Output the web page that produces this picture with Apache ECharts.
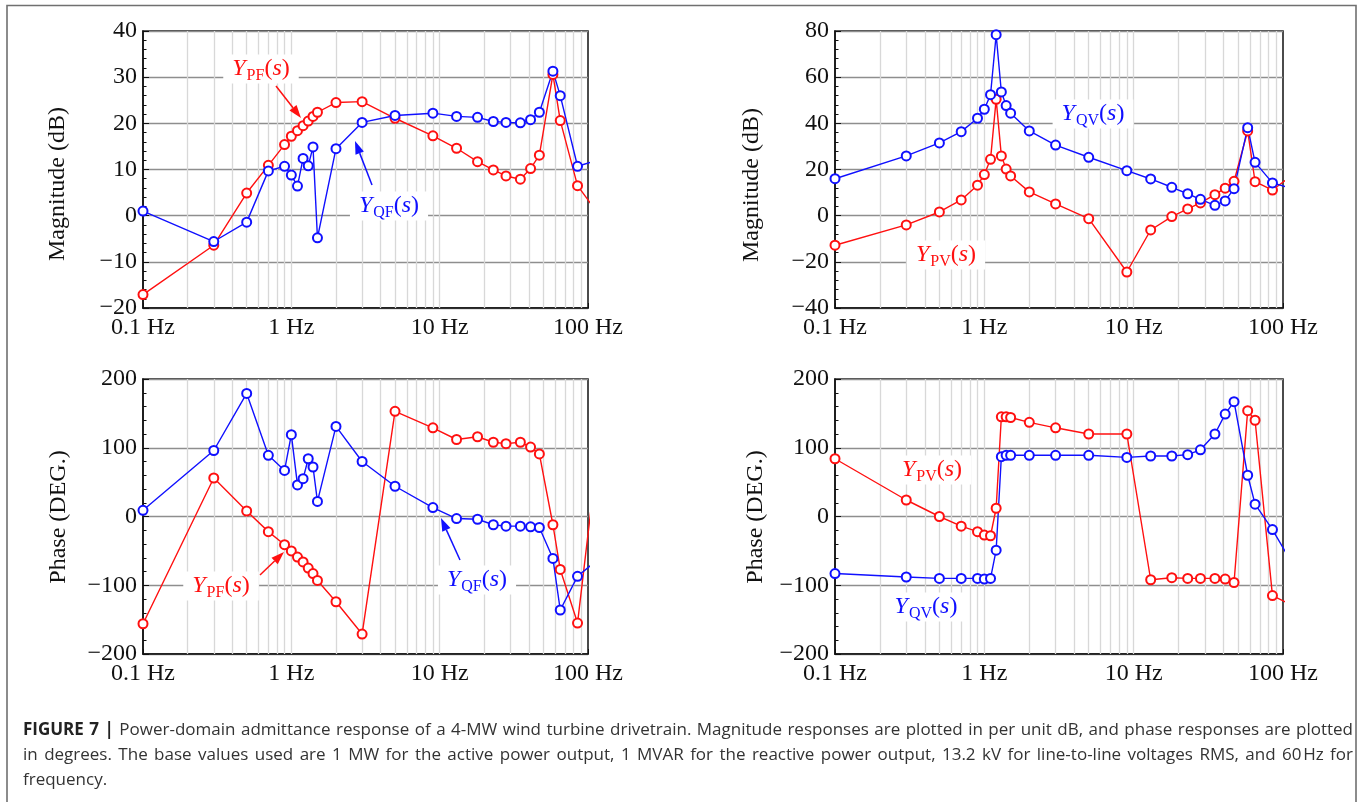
<!DOCTYPE html>
<html>
<head>
    <meta charset="utf-8">
    <title>Figure 7</title>
    <script src="https://cdn.jsdelivr.net/npm/echarts@6/dist/echarts.min.js"></script>
    <style>
        html, body { margin: 0; padding: 0; background: #fff; }
        #main { position: absolute; left: 0; top: 0; width: 1360px; height: 802px; }
        #caption {
            position: absolute; left: 23px; top: 716px; width: 1330px;
            font-family: 'Open Sans', 'Liberation Sans', Arial, sans-serif; font-size: 17px;
            line-height: 25px; color: #333;
        }
        #caption .j { text-align: justify; text-align-last: justify; }
        #caption b { color: #222; }
    </style>
</head>
<body>
<div id="main"></div>
<div id="caption">
    <div class="j"><b>FIGURE 7 |</b> Power-domain admittance response of a 4-MW wind turbine drivetrain. Magnitude responses are plotted in per unit dB, and phase responses are plotted</div>
    <div class="j">in degrees. The base values used are 1 MW for the active power output, 1 MVAR for the reactive power output, 13.2 kV for line-to-line voltages RMS, and 60&#8202;Hz for</div>
    <div>frequency.</div>
</div>
<script type="text/javascript">
    // frequencies (Hz), shared by every curve; the last one lies just past 100 Hz and is clipped
    var freq = [0.1, 0.3, 0.5, 0.7, 0.9, 1.0, 1.1, 1.2, 1.3, 1.4, 1.5, 2, 3, 5, 9, 13, 18, 23, 28, 35, 41, 47, 58, 65, 85, 110];

    // magnitude (dB)
    var magPF = [-17.1, -6.4, 4.9, 10.9, 15.4, 17.2, 18.4, 19.5, 20.5, 21.5, 22.4, 24.5, 24.7, 21.1, 17.3, 14.6, 11.7, 9.9, 8.6, 7.9, 10.2, 13.1, 30.6, 20.6, 6.5, 1.6];
    var magQF = [1.0, -5.6, -1.4, 9.7, 10.7, 8.8, 6.4, 12.4, 10.8, 14.9, -4.8, 14.5, 20.2, 21.7, 22.2, 21.5, 21.3, 20.4, 20.2, 20.1, 20.8, 22.4, 31.3, 26.0, 10.7, 11.8];
    var magPV = [-12.8, -4.0, 1.6, 6.8, 13.2, 17.8, 24.4, 50.4, 25.9, 20.2, 17.2, 10.3, 5.1, -1.3, -24.4, -6.2, -0.4, 2.9, 5.5, 9.1, 11.9, 14.9, 36.7, 14.7, 11.1, 16.5];
    var magQV = [16.0, 25.9, 31.5, 36.4, 42.2, 46.1, 52.4, 78.4, 53.6, 47.7, 44.4, 36.7, 30.6, 25.3, 19.5, 15.9, 12.3, 9.5, 7.1, 4.5, 6.4, 11.7, 38.1, 23.1, 14.2, 12.1];

    // phase (deg)
    var phPF = [-156, 56, 8, -22, -41, -50, -59, -66, -75, -83, -93, -124, -171, 153, 129, 112, 116, 108, 106, 108, 101, 91, -12, -77, -155, 50];
    var phQF = [9, 96, 179, 89, 67, 119, 46, 55, 84, 72, 22, 131, 80, 44, 13, -3, -4, -12, -14, -14, -15, -16, -61, -136, -87, -67];
    var phPV = [84, 24, 0, -14, -22, -27, -28, 12, 145, 145, 144, 137, 129, 120, 120, -92, -89, -90, -90, -90, -91, -96, 154, 140, -115, -127];
    var phQV = [-83, -88, -90, -90, -90, -91, -90, -49, 87, 89, 89, 89, 89, 89, 86, 88, 88, 90, 97, 120, 149, 167, 60, 18, -19, -61];

    // tick labels of the frequency axis
    var xTickLabels = {'0.1': '0.1 Hz', '1': '1 Hz', '10': '10 Hz', '100': '100 Hz'};

    var red = '#ff1010';
    var blue = '#1010ff';
    var serif = 'Liberation Serif';

    // light vertical lines at 2..9 of every decade
    var vLines = [];
    [0.1, 1, 10].forEach(function (d) {
        for (var k = 1; k <= 9; k++) {
            if (d * k > 0.1) vLines.push(+(d * k).toPrecision(2));
        }
    });

    var grids = [
        {left: 143, top: 31, width: 445, height: 277},
        {left: 835, top: 31, width: 448, height: 277},
        {left: 143, top: 379, width: 445, height: 275},
        {left: 835, top: 379, width: 448, height: 275}
    ];
    var yRanges = [[-20, 40, 10], [-40, 80, 20], [-200, 200, 100], [-200, 200, 100]];

    var chart = echarts.init(document.getElementById('main'));

    function xAxis(gi) {
        return {
            type: 'log', logBase: 10, gridIndex: gi, min: 0.1, max: 100,
            axisLine: {onZero: false, lineStyle: {color: '#111', width: 1.5}},
            axisTick: {show: true, inside: true, length: 5, lineStyle: {color: '#111'}},
            splitLine: {show: false},
            axisLabel: {
                margin: 8, color: '#111', fontFamily: serif, fontSize: 24,
                formatter: function (v) {
                    return xTickLabels[String(+v.toPrecision(2))] || '';
                }
            }
        };
    }

    function yAxis(gi) {
        var r = yRanges[gi];
        return {
            type: 'value', gridIndex: gi, min: r[0], max: r[1], interval: r[2],
            axisLine: {show: true, onZero: false, lineStyle: {color: '#111', width: 1.5}},
            axisTick: {show: true, inside: true, length: 6, lineStyle: {color: '#111'}},
            minorTick: {show: true, splitNumber: 5, length: 3.5, lineStyle: {color: '#111'}},
            splitLine: {show: true, lineStyle: {color: '#8e8e8e', width: 1.4}},
            axisLabel: {
                margin: 6, color: '#111', fontFamily: serif, fontSize: 24,
                formatter: function (v) { return String(v).replace('-', '\u2212'); }
            }
        };
    }

    function gridLines(gi) {
        return {
            type: 'line', xAxisIndex: gi, yAxisIndex: gi, data: [], silent: true, z: 1,
            markLine: {
                silent: true, z: 1, symbol: ['none', 'none'], label: {show: false},
                lineStyle: {color: '#d8d8d8', width: 1.3, type: 'solid'},
                data: vLines.map(function (v) { return {xAxis: v}; })
            }
        };
    }

    function curve(vals, color, gi) {
        return {
            type: 'line', xAxisIndex: gi, yAxisIndex: gi, clip: true, z: 3,
            data: freq.map(function (f, i) { return [f, vals[i]]; }),
            symbol: 'circle', symbolSize: 9, showAllSymbol: true,
            lineStyle: {color: color, width: 1.4},
            itemStyle: {color: '#fff', borderColor: color, borderWidth: 2}
        };
    }

    function yLabel(x, y, sub, color) {
        return {
            type: 'text', x: x, y: y, z: 100,
            style: {
                text: '{i|Y}{s|' + sub + '}{n|(}{i|s}{n|)}',
                align: 'center', verticalAlign: 'middle',
                backgroundColor: '#fff', padding: [0, 9],
                rich: {
                    i: {fontFamily: serif, fontStyle: 'italic', fontSize: 24, fill: color},
                    s: {fontFamily: serif, fontSize: 16, fill: color, padding: [13, 0, 0, 1]},
                    n: {fontFamily: serif, fontSize: 24, fill: color}
                }
            }
        };
    }

    function arrow(x1, y1, x2, y2, color) {
        var a = Math.atan2(y2 - y1, x2 - x1), L = 13, W = 4.5;
        var bx = x2 - L * Math.cos(a), by = y2 - L * Math.sin(a);
        return [
            {type: 'line', z: 100, shape: {x1: x1, y1: y1, x2: bx, y2: by}, style: {stroke: color, lineWidth: 1.5}},
            {type: 'polygon', z: 100, shape: {points: [[x2, y2],
                [bx - W * Math.sin(a), by + W * Math.cos(a)],
                [bx + W * Math.sin(a), by - W * Math.cos(a)]]}, style: {fill: color}}
        ];
    }

    function axisName(x, y, text) {
        return {
            type: 'text', x: x, y: y, rotation: Math.PI / 2,
            style: {text: text, align: 'center', verticalAlign: 'middle', fontFamily: serif, fontSize: 24, fill: '#111'}
        };
    }

    var graphics = [
        {type: 'polyline', z: 0, shape: {points: [[7, 820], [7, 5.5], [1356, 5.5], [1356, 820]]},
            style: {stroke: '#707070', lineWidth: 1.6, fill: null}},
        axisName(58, 184, 'Magnitude (dB)'),
        axisName(752, 185, 'Magnitude (dB)'),
        axisName(59, 517, 'Phase (DEG.)'),
        axisName(756, 517, 'Phase (DEG.)'),
        yLabel(261, 69, 'PF', red),
        yLabel(389, 206, 'QF', blue),
        yLabel(1093, 114, 'QV', blue),
        yLabel(946, 255, 'PV', red),
        yLabel(221, 586, 'PF', red),
        yLabel(477, 580, 'QF', blue),
        yLabel(932, 470, 'PV', red),
        yLabel(926, 607, 'QV', blue)
    ].concat(
        arrow(276, 86, 301, 118, red),
        arrow(372, 185, 355, 141, blue),
        arrow(260, 575, 284, 552, red),
        arrow(460, 560, 441, 518, blue)
    );

    var option = {
        animation: false,
        backgroundColor: '#fff',
        grid: grids.map(function (g) {
            return {left: g.left, top: g.top, width: g.width, height: g.height,
                show: true, backgroundColor: '#fff', borderColor: '#111', borderWidth: 1.5};
        }),
        xAxis: [0, 1, 2, 3].map(xAxis),
        yAxis: [0, 1, 2, 3].map(yAxis),
        series: [
            gridLines(0), gridLines(1), gridLines(2), gridLines(3),
            curve(magPF, red, 0), curve(magQF, blue, 0),
            curve(magPV, red, 1), curve(magQV, blue, 1),
            curve(phPF, red, 2), curve(phQF, blue, 2),
            curve(phPV, red, 3), curve(phQV, blue, 3)
        ],
        graphic: graphics
    };
    chart.setOption(option);
</script>
</body>
</html>
